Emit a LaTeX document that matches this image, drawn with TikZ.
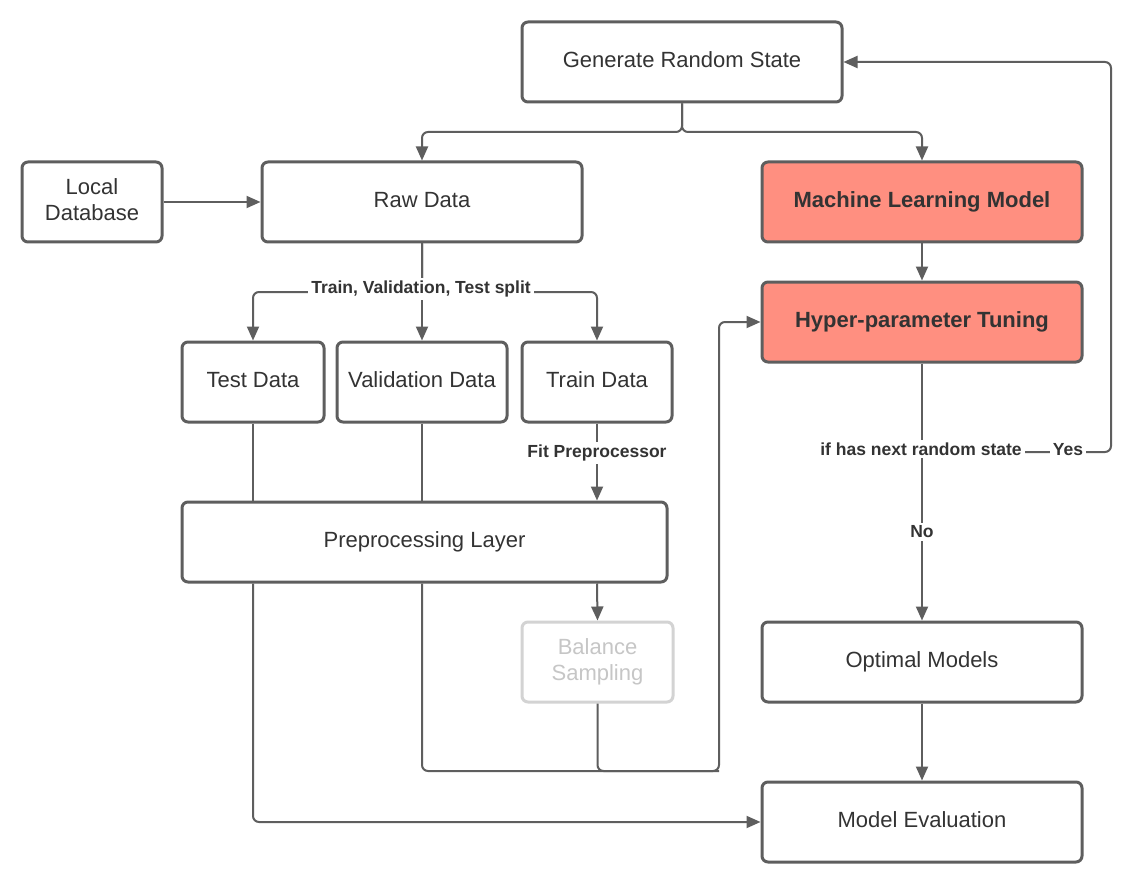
\documentclass[tikz,border=0pt]{standalone}
\usepackage{fontspec}
\setmainfont{Liberation Sans}
\usetikzlibrary{arrows.meta,calc}
\definecolor{linegray}{HTML}{5E5E5E}
\definecolor{txt}{HTML}{333333}
\definecolor{salmon}{HTML}{FF8F80}
\definecolor{faint}{HTML}{D3D3D3}
\definecolor{fainttxt}{HTML}{C6C6C6}
\newcommand{\dpfix}{\rule[-2.4pt]{0pt}{2.4pt}}
\begin{document}
\begin{tikzpicture}[x=0.5pt,y=-0.5pt,
  box/.style={draw=linegray, line width=1.5pt, rounded corners=3pt, fill=white, text=txt,
    font=\fontsize{11}{13}\selectfont, align=center, inner sep=0pt, minimum height=40pt},
  hot/.style={box, fill=salmon, font=\bfseries\fontsize{11}{13}\selectfont},
  ghost/.style={box, draw=faint, text=fainttxt},
  conn/.style={draw=linegray, line width=1pt, rounded corners=3pt},
  arr/.style={conn, -{Triangle[length=7pt,width=6pt]}},
  lbl/.style={fill=white, text=txt, font=\bfseries\fontsize{8.75}{10}\selectfont, inner sep=1.5pt}]
\fill[white] (0,0) rectangle (1131,883);
\useasboundingbox (0,0) rectangle (1131,883);

% nodes
\node[box, minimum width=160pt] (grs) at (682,62) {Generate Random State\dpfix};
\node[box, minimum width=70pt] (ld) at (92,202) {Local\\Database\dpfix};
\node[box, minimum width=160pt] (raw) at (422,202) {Raw Data\dpfix};
\node[hot, minimum width=160pt] (mlm) at (922,202) {Machine Learning Model\dpfix};
\node[hot, minimum width=160pt] (hpt) at (922,322) {Hyper-parameter Tuning\dpfix};
\node[box, minimum width=71pt] (test) at (253,382) {Test Data\dpfix};
\node[box, minimum width=85pt] (val) at (422,382) {Validation Data\dpfix};
\node[box, minimum width=75pt] (train) at (597,382) {Train Data\dpfix};
\node[box, minimum width=242.5pt] (pre) at (424.5,542) {Preprocessing Layer\dpfix};
\node[ghost, minimum width=75.5pt] (bs) at (597.5,662) {Balance\\Sampling\dpfix};
\node[box, minimum width=160pt] (om) at (922,662) {Optimal Models\dpfix};
\node[box, minimum width=160pt] (me) at (922,822) {Model Evaluation\dpfix};

\coordinate (gsplit) at (682,132);
\coordinate (rsplit) at (422,292);
\coordinate (yb) at (922,452);
\coordinate (yr) at (1111,452);
\coordinate (yt) at (1111,62);
\coordinate (loopx) at (719,771);

% connectors
\draw[arr] (grs.south) -- (gsplit) -| (raw.north);
\draw[arr] (grs.south) -- (gsplit) -| (mlm.north);
\draw[arr] (ld.east) -- (raw.west);
\draw[arr] (raw.south) -- (rsplit) -| (test.north);
\draw[arr] (raw.south) -- (val.north);
\draw[arr] (raw.south) -- (rsplit) -| (train.north);
\draw[conn] (test.south) -- (test.south |- pre.north);
\draw[conn] (val.south) -- (val.south |- pre.north);
\draw[arr] (train.south) -- (train.south |- pre.north);
\draw[arr] (train.south |- pre.south) -- (bs.north);
\draw[arr] (test.south |- pre.south) |- (me.west);
\draw[arr] (val.south |- pre.south) |- (loopx) |- (hpt.west);
\draw[conn] (bs.south) |- (loopx);
\draw[arr] (mlm.south) -- (hpt.north);
\draw[arr] (hpt.south) -- (om.north);
\draw[arr] (yb) -- (yr) -- (yt) -- (grs.east);
\draw[arr] (om.south) -- (me.north);

% labels
\node[lbl] (l1) at (421,289) {Train, Validation, Test split};
\node[lbl] (l2) at (597,453) {Fit Preprocessor};
\node[lbl] (l3) at (921,449) {if has next random state};
\node[lbl] (l4) at (1068,450) {Yes};
\node[lbl] (l5) at (922,532) {No};
\end{tikzpicture}
\end{document}
